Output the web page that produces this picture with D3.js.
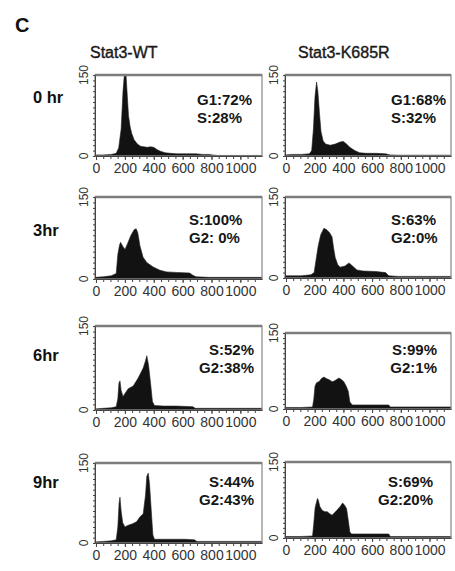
<!DOCTYPE html>
<html>
<head>
<meta charset="utf-8">
<script src="https://d3js.org/d3.v7.min.js"></script>
<style>
  body { margin: 0; background: #fff; }
  text { font-family: "Liberation Sans", Arial, sans-serif; }
  .axis path, .axis line { stroke: #444; }
  .axis text { fill: #333; }
</style>
</head>
<body>
<svg id="chart" width="455" height="571"></svg>
<script>
var columns = ["Stat3-WT", "Stat3-K685R"];
var times = ["0 hr", "3hr", "6hr", "9hr"];
var xTicks = [0, 200, 400, 600, 800, 1000];
var yTicks = [0, 150];

// DNA content histograms: [channel, cell count]
var wt0 = [[-7,2],[49,2],[106,3],[140,5],[157,15],[174,50],[187,120],[196,160],[208,160],[217,110],[225,75],[236,55],[247,42],[264,30],[287,22],[309,18],[332,17],[355,16],[377,17],[400,16],[422,12],[445,9],[479,6],[513,5],[558,4],[626,4],[694,4],[739,3],[784,3],[807,2],[841,1],[897,1],[1150,1]];
var k0 = [[-7,2],[49,3],[106,3],[163,4],[179,10],[191,50],[202,110],[213,137],[222,120],[233,80],[244,45],[259,28],[276,22],[309,20],[343,22],[377,26],[400,27],[422,22],[445,16],[479,10],[513,6],[558,5],[626,5],[694,4],[727,2],[784,1.5],[1150,1.5]];
var wt3 = [[-7,3],[49,4],[106,6],[140,10],[151,45],[163,62],[170,67],[185,60],[201,54],[219,65],[242,80],[264,90],[278,92],[289,85],[305,60],[326,40],[352,30],[396,22],[443,16],[490,13],[558,12],[648,11],[671,7],[693,4],[784,3],[1150,3]];
var k3 = [[-7,4],[106,4],[174,6],[196,10],[213,40],[225,60],[242,80],[264,92],[281,90],[304,84],[321,76],[332,55],[343,38],[360,25],[377,20],[411,22],[439,28],[456,24],[494,15],[535,13],[626,12],[694,10],[716,4],[784,3],[1150,3]];
var wt6 = [[-7,2],[49,3],[106,4],[140,6],[151,20],[159,48],[166,52],[174,35],[187,24],[202,30],[223,38],[258,43],[292,57],[327,75],[343,88],[352,97],[364,80],[377,50],[391,15],[405,8],[468,7],[558,7],[671,6],[688,3],[1150,3]];
var k6 = [[-7,3],[106,3],[185,4],[194,20],[202,45],[213,52],[230,54],[247,60],[264,63],[281,60],[299,58],[321,54],[334,55],[352,58],[369,61],[386,58],[403,54],[420,45],[434,35],[445,14],[462,8],[558,8],[716,8],[727,4],[1150,4]];
var wt9 = [[-7,2],[49,3],[106,4],[140,6],[151,30],[160,75],[166,86],[174,60],[185,38],[201,30],[219,33],[253,36],[281,40],[305,49],[327,55],[343,90],[352,125],[362,131],[371,110],[383,60],[394,15],[405,7],[501,7],[614,7],[682,6],[699,3],[1150,3]];
var k9 = [[-7,3],[106,3],[185,4],[194,30],[203,60],[219,78],[225,75],[236,62],[251,55],[270,52],[287,52],[304,48],[321,45],[338,50],[355,55],[377,62],[394,69],[405,66],[422,58],[434,35],[445,12],[456,8],[558,8],[716,8],[727,3],[1150,3]];

var histograms = [[wt0, k0], [wt3, k3], [wt6, k6], [wt9, k9]];
var notes = [
  [["G1:72%", "S:28%"], ["G1:68%", "S:32%"]],
  [["S:100%", "G2: 0%"], ["S:63%", "G2:0%"]],
  [["S:52%", "G2:38%"], ["S:99%", "G2:1%"]],
  [["S:44%", "G2:43%"], ["S:69%", "G2:20%"]]
];

// layout
var colX = [[95, 262], [285, 451]];
var rowY = [
  [[75, 156], [75, 156]],
  [[197, 279], [197, 278]],
  [[326, 410], [333, 409]],
  [[463, 543], [462, 538]]
];
var rowLabelY = [103, 236, 361, 488];
var noteLayout = [
  [{x: 197, y: 105, anchor: "start"}, {x: 391, y: 105, anchor: "start"}],
  [{x: 189, y: 225, anchor: "start"}, {x: 391, y: 225, anchor: "start"}],
  [{x: 254, y: 355, anchor: "end"}, {x: 437, y: 355, anchor: "end"}],
  [{x: 254, y: 487, anchor: "end"}, {x: 433, y: 487, anchor: "end"}]
];

var svg = d3.select("#chart");

svg.append("text")
  .attr("x", 15).attr("y", 32)
  .attr("font-size", 20).attr("font-weight", "bold")
  .attr("fill", "#111")
  .text("C");

svg.selectAll("text.coltitle")
  .data(columns)
  .enter().append("text")
  .attr("class", "coltitle")
  .attr("x", function(d, i) { return i === 0 ? 90 : 298; })
  .attr("y", 58)
  .attr("font-size", 16)
  .attr("fill", "#1a1a1a")
  .attr("stroke", "#1a1a1a").attr("stroke-width", 0.4)
  .text(function(d) { return d; });

svg.selectAll("text.rowlabel")
  .data(times)
  .enter().append("text")
  .attr("class", "rowlabel")
  .attr("x", 33)
  .attr("y", function(d, i) { return rowLabelY[i]; })
  .attr("font-size", 16.5).attr("font-weight", "bold")
  .attr("fill", "#111")
  .text(function(d) { return d; });

function drawPanel(r, c) {
  var data = histograms[r][c],
      x0 = colX[c][0], x1 = colX[c][1],
      top = rowY[r][c][0], bottom = rowY[r][c][1];

  var x = d3.scaleLinear().domain([-7, 1150]).range([x0, x1]),
      y = d3.scaleLinear().domain([0, 150]).range([bottom, top]).clamp(true);

  var g = svg.append("g").attr("class", "panel");

  var area = d3.area()
    .x(function(d) { return x(d[0]); })
    .y0(y(0))
    .y1(function(d) { return y(d[1]); });

  g.append("path")
    .datum(data)
    .attr("d", area)
    .attr("fill", "#121212")
    .attr("stroke", "#222")
    .attr("stroke-width", 0.6);

  // frame
  g.append("rect")
    .attr("x", x0).attr("y", top)
    .attr("width", x1 - x0).attr("height", bottom - top)
    .attr("fill", "none")
    .attr("stroke", "#8f8f8f")
    .attr("stroke-width", 1.3);
  g.append("line")
    .attr("x1", x0).attr("x2", x1)
    .attr("y1", top).attr("y2", top)
    .attr("stroke", "#7d7d7d")
    .attr("stroke-width", 2.4);

  // x axis, minor then labelled ticks
  g.append("g")
    .attr("class", "axis")
    .attr("transform", "translate(0," + bottom + ")")
    .call(d3.axisBottom(x).tickValues(d3.range(0, 1101, 50)).tickSize(3).tickSizeOuter(0).tickFormat(""));
  g.append("g")
    .attr("class", "axis")
    .attr("transform", "translate(0," + bottom + ")")
    .call(d3.axisBottom(x).tickValues(xTicks).tickSize(4).tickSizeOuter(0).tickPadding(3).tickFormat(d3.format("d")))
    .call(function(a) { a.select(".domain").remove(); })
    .selectAll("text").attr("font-size", 14).attr("font-family", null);

  // y axis
  g.append("g")
    .attr("class", "axis")
    .attr("transform", "translate(" + x0 + ",0)")
    .call(d3.axisLeft(y).tickValues(d3.range(0, 151, 10)).tickSize(2).tickSizeOuter(0).tickFormat(""))
    .selectAll("line").attr("stroke", "#666");

  g.selectAll("text.ylab")
    .data(yTicks)
    .enter().append("text")
    .attr("class", "ylab")
    .attr("transform", function(d) { return "translate(" + (x0 - 7) + "," + y(d) + ") rotate(-90)"; })
    .attr("text-anchor", "middle")
    .attr("font-size", 12)
    .attr("fill", "#333")
    .text(function(d) { return d; });

  var nl = noteLayout[r][c];
  g.selectAll("text.note")
    .data(notes[r][c])
    .enter().append("text")
    .attr("class", "note")
    .attr("x", nl.x)
    .attr("y", function(d, i) { return nl.y + i * 18; })
    .attr("text-anchor", nl.anchor)
    .attr("font-size", 15).attr("font-weight", "bold")
    .attr("fill", "#161616")
    .text(function(d) { return d; });
}

for (var r = 0; r < histograms.length; r++) {
  for (var c = 0; c < 2; c++) {
    drawPanel(r, c);
  }
}
</script>
</body>
</html>
